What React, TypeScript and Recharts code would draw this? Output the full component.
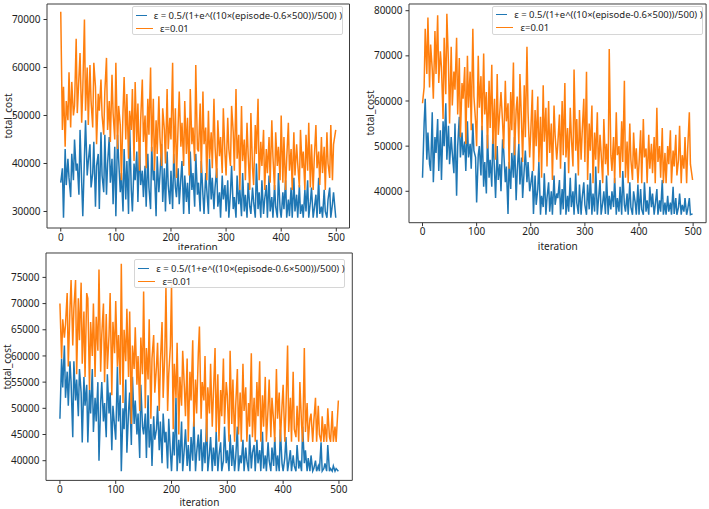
import { LineChart, Line, XAxis, YAxis, ReferenceArea, Legend } from 'recharts';

// sampled episodes (about every 2.5 iterations, last one is 499)
const iterations = [
  0, 3, 5, 8, 10, 13, 15, 18, 20, 23,
  25, 28, 30, 33, 35, 38, 40, 43, 45, 48,
  50, 53, 55, 58, 60, 63, 65, 68, 70, 73,
  75, 78, 80, 83, 85, 88, 90, 93, 95, 98,
  100, 103, 105, 108, 110, 113, 115, 118, 120, 123,
  125, 128, 130, 133, 135, 138, 140, 143, 145, 148,
  150, 153, 155, 158, 160, 163, 165, 168, 170, 173,
  175, 178, 180, 183, 185, 188, 190, 193, 195, 198,
  200, 203, 205, 208, 210, 213, 215, 218, 220, 223,
  225, 228, 230, 233, 235, 238, 240, 243, 245, 248,
  250, 253, 255, 258, 260, 263, 265, 268, 270, 273,
  275, 278, 280, 283, 285, 288, 290, 293, 295, 298,
  300, 303, 305, 308, 310, 313, 315, 318, 320, 323,
  325, 328, 330, 333, 335, 338, 340, 343, 345, 348,
  350, 353, 355, 358, 360, 363, 365, 368, 370, 373,
  375, 378, 380, 383, 385, 388, 390, 393, 395, 398,
  400, 403, 405, 408, 410, 413, 415, 418, 420, 423,
  425, 428, 430, 433, 435, 438, 440, 443, 445, 448,
  450, 453, 455, 458, 460, 463, 465, 468, 470, 473,
  475, 478, 480, 483, 485, 488, 490, 493, 495, 499,
];

const xTicks = [0, 100, 200, 300, 400, 500];
const seriesNames = ['ε = 0.5/(1+e^((10×(episode-0.6×500))/500) )', 'ε=0.01'];

// top-left run
const tlSigmoid = [
  36000, 39000, 28700, 43000, 35500, 41000, 37000, 33000, 42000, 36500,
  45000, 38500, 40000, 33500, 47000, 36000, 29000, 41500, 49000, 37500,
  40500, 44000, 35000, 38000, 44500, 31000, 39500, 42000, 30500, 46500,
  37500, 34000, 46000, 33500, 40000, 45500, 36000, 41000, 31500, 43500,
  29000, 46000, 41000, 34000, 38000, 30000, 43000, 32500, 40500, 29500,
  48000, 34500, 30000, 40000, 36500, 42500, 32000, 44000, 35500, 38500,
  33000, 39500, 31000, 42000, 35000, 30500, 43500, 36500, 38500, 29000,
  41500, 34000, 37500, 44000, 32000, 39000, 30000, 42500, 35500, 31500,
  38500, 30500, 42000, 35000, 33000, 39000, 31500, 37000, 40500, 29500,
  37500, 32000, 36000, 29500, 42500, 34500, 38000, 31000, 42000, 33500,
  36000, 30000, 40500, 33500, 29500, 38000, 34500, 29500, 41000, 32500,
  37000, 30500, 35000, 39000, 31000, 34000, 28700, 37500, 32500, 35500,
  30000, 36500, 28700, 34000, 39500, 30500, 33000, 28700, 37500, 31500,
  34500, 29000, 38000, 30000, 33500, 28700, 36000, 31000, 29500, 35000,
  32000, 28700, 40000, 30500, 34000, 28700, 36500, 29500, 32500, 35500,
  28700, 37500, 30000, 33000, 28700, 35500, 31000, 28700, 38000, 30500,
  28700, 34000, 30500, 36500, 28700, 32500, 29000, 35000, 28700, 37000,
  30000, 33500, 28700, 35500, 29500, 31500, 28700, 34500, 30000, 36500,
  28700, 32000, 35000, 28700, 30500, 33500, 28700, 37000, 29500, 31000,
  28700, 34500, 30000, 28700, 32500, 35000, 28700, 31500, 34000, 28700,
];
const tlConst = [
  71600, 47000, 56000, 43500, 53000, 49000, 59000, 47500, 57000, 50000,
  52000, 66000, 50500, 58000, 63000, 48500, 55500, 70000, 51000, 60000,
  48000, 60500, 53000, 47500, 61000, 56000, 44000, 54500, 51000, 57500,
  50000, 46000, 55000, 62000, 47000, 53000, 44500, 58500, 50500, 45000,
  61000, 43000, 52000, 48000, 36500, 51000, 58000, 45000, 54500, 41000,
  51000, 47000, 55500, 40500, 57000, 44500, 52500, 38500, 49000, 57500,
  44500, 50000, 39000, 53500, 46000, 60000, 42500, 53500, 38500, 49000,
  42000, 54000, 45500, 39500, 51500, 47000, 40000, 55500, 43000, 49500,
  45000, 61000, 40000, 51500, 37000, 48000, 55000, 43500, 48500, 39500,
  53000, 42000, 49500, 37500, 55500, 44000, 47500, 40500, 60500, 43000,
  42500, 52500, 38000, 55000, 44000, 47500, 36500, 51000, 41000, 46500,
  39000, 53500, 43500, 37000, 49000, 41500, 45500, 38000, 51500, 42000,
  37500, 49500, 43000, 39500, 52000, 46500, 38500, 55500, 41000, 46000,
  34500, 52000, 40500, 45000, 36500, 48500, 42000, 34500, 50500, 39000,
  35500, 48000, 42000, 53500, 36500, 44500, 39500, 47000, 34500, 43000,
  38000, 45500, 36000, 49000, 41500, 34500, 46500, 39500, 43500, 36500,
  50000, 36000, 45500, 34500, 41000, 48500, 38500, 43000, 34500, 46500,
  37500, 44000, 40000, 35000, 47000, 39000, 42500, 34500, 46000, 38500,
  48500, 35000, 44000, 34500, 41000, 48000, 39000, 42500, 35500, 45500,
  38000, 43500, 34500, 46500, 40000, 37000, 48000, 36500, 44000, 47000,
];
const tlYTicks = [30000, 40000, 50000, 60000, 70000];

// top-right run
const trSigmoid = [
  43000, 55000, 60500, 47000, 53000, 46000, 44500, 57500, 42000, 52000,
  48500, 56000, 44500, 53500, 42500, 55500, 50000, 59500, 47000, 54500,
  46000, 52000, 48500, 44000, 55000, 39000, 50000, 56500, 47500, 53000,
  48000, 51000, 44500, 55500, 47500, 50500, 45000, 55000, 49000, 47500,
  37500, 48000, 50000, 43500, 54500, 41000, 46500, 39500, 52500, 43000,
  47000, 41000, 53000, 44500, 38500, 50000, 42500, 46000, 40000, 51500,
  49000, 42000, 45500, 35000, 46500, 40500, 48500, 43000, 52000, 38000,
  44500, 50500, 41500, 47500, 38500, 45000, 49000, 42000, 46500, 40000,
  41500, 44500, 35000, 43500, 37000, 40500, 46500, 34800, 39000, 36500,
  44000, 34800, 38500, 42000, 35500, 40000, 34800, 43500, 37000, 39500,
  38500, 42500, 34800, 40500, 36000, 46500, 34800, 39000, 35500, 43000,
  36500, 40000, 34800, 44000, 37500, 35000, 41500, 34800, 38500, 42000,
  37000, 34800, 41500, 36000, 44000, 34800, 39500, 35500, 45500, 34800,
  38000, 42500, 34800, 37500, 40000, 35000, 43500, 34800, 39000, 36000,
  40000, 36500, 43000, 34800, 38500, 35500, 41000, 34800, 44500, 37000,
  35500, 39500, 34800, 42000, 36500, 34800, 40000, 37500, 34800, 41500,
  34800, 40500, 36000, 34800, 42000, 35500, 38000, 34800, 41000, 36500,
  39500, 34800, 37000, 40500, 34800, 38000, 35500, 42500, 34800, 37500,
  34800, 39000, 35500, 37500, 34800, 41000, 35000, 38500, 34800, 36500,
  39500, 34800, 37000, 35500, 38500, 34800, 36000, 38500, 34800, 35000,
];
const trConst = [
  59500, 63000, 76000, 66000, 78500, 63000, 72500, 67000, 60500, 75500,
  66000, 79000, 64000, 71000, 67500, 56000, 74000, 61500, 79300, 68000,
  55000, 72000, 59000, 66500, 62500, 74000, 57000, 69500, 52000, 64000,
  60500, 67500, 50500, 70000, 58500, 66500, 53500, 76000, 61000, 55500,
  50000, 70000, 58500, 65500, 53500, 70500, 57000, 62000, 49500, 64500,
  54000, 68000, 50500, 60500, 47000, 66000, 52500, 58000, 62000, 55000,
  49500, 64500, 55500, 59500, 45000, 62000, 53500, 68500, 48000, 58000,
  61000, 50500, 66000, 55000, 46500, 63500, 52000, 72000, 57500, 47500,
  53000, 62500, 44500, 58000, 50000, 61000, 46500, 56500, 43000, 63500,
  51000, 58500, 45500, 60000, 48500, 55000, 42500, 59000, 52500, 47000,
  50500, 57000, 45000, 60000, 48000, 64000, 47500, 54000, 44000, 58500,
  52000, 45500, 67000, 49000, 56000, 43500, 58000, 47000, 53000, 60500,
  46500, 66500, 42500, 55000, 49000, 59000, 41800, 53000, 47000, 57500,
  44000, 52500, 48500, 41800, 56000, 46000, 50500, 43500, 71500, 48000,
  44500, 52000, 41800, 57500, 48000, 50000, 43000, 55500, 46500, 64500,
  43000, 51000, 41800, 55000, 47000, 42500, 53000, 45000, 49500, 41800,
  46000, 53500, 41800, 56000, 47500, 49500, 41800, 52500, 45000, 50500,
  44000, 52000, 41800, 58500, 46500, 50000, 43000, 54000, 41800, 48500,
  41800, 50000, 46000, 53500, 41800, 49000, 45500, 52500, 43500, 47000,
  54500, 41800, 48000, 45000, 52000, 41800, 49500, 57500, 46000, 42500,
];
const trYTicks = [40000, 50000, 60000, 70000, 80000];

// bottom-left run
const blSigmoid = [
  48000, 59500, 54000, 62000, 52000, 57000, 50500, 59000, 55000, 44500,
  59000, 51500, 55500, 48500, 57500, 53000, 43500, 56000, 50500, 54500,
  43500, 53500, 49000, 57500, 45500, 52000, 47500, 55000, 40000, 51000,
  55000, 47500, 51000, 44500, 56500, 49000, 53000, 42000, 50500, 46500,
  44000, 58000, 47500, 52500, 38000, 50000, 46000, 55500, 41500, 49500,
  53000, 43000, 56000, 47000, 51500, 45000, 49000, 40500, 54500, 46500,
  45000, 49000, 40500, 52500, 42500, 47000, 39000, 48500, 44000, 46000,
  50500, 42000, 47500, 39500, 49000, 43500, 45500, 38500, 48000, 41500,
  38000, 45500, 41000, 52000, 38000, 44000, 39500, 47500, 38000, 42500,
  46000, 39000, 43000, 38000, 44500, 40000, 48500, 38000, 41500, 45000,
  40000, 46000, 38000, 43500, 39500, 48000, 38000, 41500, 44500, 38000,
  42500, 39000, 45500, 38000, 41000, 43500, 38000, 40000, 46500, 39500,
  42000, 38000, 45000, 39000, 43000, 38000, 40500, 46500, 38000, 41000,
  39500, 44000, 38000, 42500, 40000, 38000, 45000, 38500, 41500, 43000,
  38000, 44000, 39500, 42000, 38000, 45500, 38500, 41000, 38000, 43500,
  40000, 38000, 42500, 39000, 44500, 38000, 41000, 38000, 46000, 39500,
  38000, 40500, 44500, 38000, 39500, 42000, 38000, 41000, 39000, 38000,
  43000, 38500, 40000, 38000, 46500, 39500, 42000, 38000, 40500, 38000,
  41000, 38000, 38500, 40000, 38000, 39000, 38000, 43500, 38000, 38500,
  39500, 38000, 43000, 38000, 38500, 38000, 39000, 38000, 38500, 38000,
];
const blConst = [
  70000, 59500, 67000, 63500, 66000, 72000, 58000, 69000, 74500, 62000,
  69000, 74500, 56500, 71000, 63000, 74000, 58500, 68500, 56000, 72000,
  71000, 53500, 66500, 60000, 70000, 56000, 67500, 61000, 76500, 57000,
  64000, 70000, 55000, 68000, 57500, 64000, 72000, 52500, 66500, 60500,
  70500, 58000, 64000, 54500, 77600, 51000, 65000, 59000, 69000, 56000,
  68500, 47000, 62000, 57500, 65500, 54500, 60000, 49500, 63500, 56500,
  72300, 50000, 61500, 55500, 67000, 48000, 59500, 64000, 53000, 58000,
  62500, 49500, 58500, 66500, 52000, 60500, 73300, 49500, 56500, 62000,
  73800, 46000, 58500, 52000, 62500, 45000, 56000, 50500, 61000, 54000,
  48500, 59500, 43600, 57000, 51500, 63000, 46500, 55500, 49000, 60500,
  65600, 48000, 55000, 51500, 60000, 43600, 54000, 49000, 58500, 46500,
  52500, 61500, 45500, 56500, 43600, 53500, 48500, 59500, 47000, 55000,
  52500, 43600, 61000, 47000, 55500, 43600, 50500, 57500, 45000, 53000,
  43600, 58500, 49500, 54000, 43600, 51000, 46500, 60500, 44500, 52000,
  43600, 55000, 48500, 59000, 43600, 52500, 46500, 56000, 43600, 50000,
  55500, 44500, 52000, 47500, 43600, 57500, 48000, 53000, 43600, 50500,
  54500, 43600, 49500, 62000, 45500, 52000, 43600, 57000, 46000, 44500,
  50500, 43600, 55000, 47000, 43600, 61500, 45500, 51000, 43600, 48000,
  49000, 43600, 47500, 52000, 43600, 50500, 45000, 43600, 48500, 43600,
  47000, 43600, 50000, 44500, 43600, 49500, 43600, 46500, 43600, 51500,
];
const blYTicks = [40000, 45000, 50000, 55000, 60000, 65000, 70000, 75000];

const FONT = '"Noto Sans", "DejaVu Sans", sans-serif';
const BLUE = '#1f77b4';
const ORANGE = '#ff7f0e';
const seriesColors = [BLUE, ORANGE];
const X_DOMAIN: [number, number] = [-24.95, 523.95];
const YW = 46;
const XH = 20;

function LegendBox() {
  return (
    <div
      style={{
        width: 211,
        height: 29,
        boxSizing: 'border-box',
        border: '1px solid #d6d6d6',
        borderRadius: 2,
        background: 'rgba(255,255,255,0.85)',
        padding: '1.5px 0 0 3px',
        fontFamily: FONT,
        fontSize: 9.5,
        color: '#1e1e1e',
      }}
    >
      {seriesNames.map((name, i) => (
        <div key={name} style={{ display: 'flex', alignItems: 'center', height: 13.2, whiteSpace: 'nowrap' }}>
          <span
            style={{
              display: 'inline-block',
              width: 17,
              height: 0,
              borderTop: `1.5px solid ${seriesColors[i]}`,
              marginRight: 7,
            }}
          />
          {name}
        </div>
      ))}
    </div>
  );
}

interface PanelProps {
  fx: number;
  fy: number;
  fw: number;
  fh: number;
  yDomain: [number, number];
  yTicks: number[];
  sigmoid: number[];
  constant: number[];
  legendX: number;
  legendY: number;
  yTitleX: number;
  xTitleY: number;
}

function Panel(p: PanelProps) {
  const data = iterations.map((it, i) => ({ it, sigmoid: p.sigmoid[i], constant: p.constant[i] }));
  const left = p.fx - YW;
  const top = p.fy - 1;
  const tick = { fontSize: 10, fill: '#1e1e1e', fontFamily: FONT };
  const title = { position: 'absolute' as const, fontFamily: FONT, fontSize: 10, color: '#1e1e1e', whiteSpace: 'nowrap' as const };
  return (
    <>
      <div style={{ position: 'absolute', left, top }}>
        <LineChart
          width={YW + p.fw + 1}
          height={p.fh + 1 + XH}
          data={data}
          margin={{ top: 1, right: 1, bottom: 0, left: 0 }}
        >
          <XAxis
            dataKey="it"
            type="number"
            domain={X_DOMAIN}
            ticks={xTicks}
            allowDataOverflow
            height={XH}
            axisLine={false}
            tickSize={3.5}
            tickMargin={2}
            tickLine={{ stroke: '#333' }}
            tick={tick}
          />
          <YAxis
            type="number"
            domain={p.yDomain}
            ticks={p.yTicks}
            allowDataOverflow
            width={YW}
            axisLine={false}
            tickSize={3.5}
            tickMargin={3}
            tickLine={{ stroke: '#333' }}
            tick={tick}
          />
          <Line dataKey="sigmoid" name={seriesNames[0]} stroke={BLUE} strokeWidth={1.5} dot={false} isAnimationActive={false} />
          <Line dataKey="constant" name={seriesNames[1]} stroke={ORANGE} strokeWidth={1.5} dot={false} isAnimationActive={false} />
          <ReferenceArea
            x1={X_DOMAIN[0]}
            x2={X_DOMAIN[1]}
            y1={p.yDomain[0]}
            y2={p.yDomain[1]}
            fill="none"
            stroke="#3c3c3c"
            strokeWidth={1}
          />
          <Legend
            layout="vertical"
            align="center"
            verticalAlign="middle"
            content={LegendBox}
            wrapperStyle={{ left: p.legendX - left, top: p.legendY - top, width: 'auto', height: 'auto' }}
          />
        </LineChart>
      </div>
      <div style={{ ...title, left: p.fx + p.fw / 2, top: p.xTitleY, transform: 'translate(-50%, -50%)' }}>
        iteration
      </div>
      <div style={{ ...title, left: p.yTitleX, top: p.fy + p.fh / 2, transform: 'translate(-50%, -50%) rotate(-90deg)' }}>
        total_cost
      </div>
    </>
  );
}

export default function App() {
  return (
    <div style={{ position: 'absolute', left: 0, top: 0, width: 709, height: 509, overflow: 'hidden', background: '#fff' }}>
      <Panel
        fx={46.5}
        fy={3.5}
        fw={302.5}
        fh={224}
        yDomain={[26560, 73230]}
        yTicks={tlYTicks}
        sigmoid={tlSigmoid}
        constant={tlConst}
        legendX={132}
        legendY={6}
        yTitleX={7.5}
        xTitleY={247}
      />
      <Panel
        fx={409.2}
        fy={4}
        fw={297.1}
        fh={218.7}
        yDomain={[33045, 81484]}
        yTicks={trYTicks}
        sigmoid={trSigmoid}
        constant={trConst}
        legendX={492.5}
        legendY={5.5}
        yTitleX={369.5}
        xTitleY={245.5}
      />
      <div style={{ position: 'absolute', left: 0, top: 250, width: 360, height: 259, background: '#fff' }} />
      <Panel
        fx={46.3}
        fy={253.3}
        fw={306.3}
        fh={227.4}
        yDomain={[36238, 79659]}
        yTicks={blYTicks}
        sigmoid={blSigmoid}
        constant={blConst}
        legendX={134.5}
        legendY={259}
        yTitleX={7}
        xTitleY={502}
      />
    </div>
  );
}
